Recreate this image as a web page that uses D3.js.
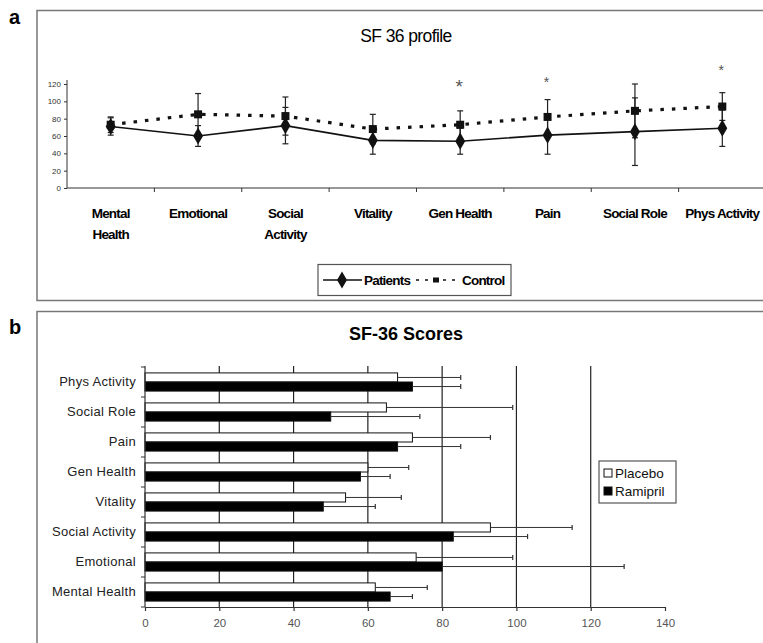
<!DOCTYPE html>
<html>
<head>
<meta charset="utf-8">
<script src="https://cdn.jsdelivr.net/npm/d3@7"></script>
<style>
  body { margin: 0; background: #fff; }
  svg { display: block; }
  .narrow { font-family: "Liberation Sans", Arial, sans-serif; }
  .plain { font-family: "Liberation Sans", Arial, sans-serif; }
</style>
</head>
<body>
<div id="chart"></div>
<script>
// categories shared by both panels
var categories = ["Mental Health", "Emotional", "Social Activity", "Vitality",
                  "Gen Health", "Pain", "Social Role", "Phys Activity"];

// panel a: SF 36 profile (patients vs control)
var patients    = [71, 60, 72, 55, 54, 61, 65, 69];
var patientsErr = [10, 12, 21, 16, 15, 22, 39, 21];
var control     = [73, 85, 83, 68, 73, 82, 89, 94];
var controlErr  = [9, 24, 22, 17, 16, 20, 31, 16];
var profileTicks = [0, 20, 40, 60, 80, 100, 120];
var starCats  = ["Gen Health", "Pain", "Phys Activity"];
var starVals  = [121, 125, 138];

// panel b: SF-36 scores (placebo vs ramipril)
var placebo     = [62, 73, 93, 54, 60, 72, 65, 68];
var placeboErr  = [14, 26, 22, 15, 11, 21, 34, 17];
var ramipril    = [66, 80, 83, 48, 58, 68, 50, 72];
var ramiprilErr = [6, 49, 20, 14, 8, 17, 24, 13];
var scoreTicks = [0, 20, 40, 60, 80, 100, 120, 140];
var gridTicks  = [20, 40, 60, 80, 100, 120];

var W = 763, H = 643;
var svg = d3.select("#chart").append("svg")
    .attr("width", W)
    .attr("height", H);

// panel frames
svg.append("rect").attr("x", 37).attr("y", 10.5).attr("width", 800).attr("height", 290)
    .attr("fill", "none").attr("stroke", "#777").attr("stroke-width", 1.5);
svg.append("rect").attr("x", 37).attr("y", 311.5).attr("width", 800).attr("height", 400)
    .attr("fill", "none").attr("stroke", "#777").attr("stroke-width", 1.5);

svg.append("text").attr("class", "plain").attr("x", 9).attr("y", 24)
    .style("font-size", "20px").style("font-weight", "bold").text("a");
svg.append("text").attr("class", "plain").attr("x", 9).attr("y", 334)
    .style("font-size", "20px").style("font-weight", "bold").text("b");

// ---------------- panel a ----------------
var xA = d3.scaleBand().domain(categories).range([67, 766]);
var yA = d3.scaleLinear().domain([0, 120]).range([188, 84]);
var cx = function(c) { return xA(c) + xA.bandwidth() / 2; };

var gA = svg.append("g");

gA.append("text").attr("class", "narrow")
    .attr("x", 406).attr("y", 42)
    .style("text-anchor", "middle").style("font-size", "17.5px")
    .style("letter-spacing", "-0.6px")
    .text("SF 36 profile");

// y axis
var yAxisA = d3.axisLeft(yA).tickValues(profileTicks).tickSize(3).tickSizeOuter(0);
var gyA = gA.append("g").attr("transform", "translate(67,0)").call(yAxisA);
gyA.select(".domain").attr("d", "M0,80V188");
gyA.selectAll("text").attr("class", "plain").style("font-size", "8px").attr("fill", "#333");
gyA.selectAll("line, path").attr("stroke", "#333");

// x axis line and ticks between categories
gA.append("line").attr("x1", 67).attr("x2", 766).attr("y1", 188).attr("y2", 188)
    .attr("stroke", "#333").attr("stroke-width", 1.2);
gA.selectAll(".xtick").data(categories.slice(1)).enter().append("line")
    .attr("x1", function(d) { return xA(d); }).attr("x2", function(d) { return xA(d); })
    .attr("y1", 188).attr("y2", 192).attr("stroke", "#333");

// category labels (two lines where needed)
var labelLines = categories.map(function(c) {
    if (c === "Mental Health" || c === "Social Activity") return c.split(" ");
    return [c];
});
gA.selectAll(".catlab").data(categories).enter().append("text")
    .attr("class", "narrow")
    .attr("x", function(d) { return cx(d); })
    .attr("y", 218)
    .style("text-anchor", "middle").style("font-size", "13.5px").style("font-weight", "bold")
    .style("letter-spacing", "-0.8px")
    .each(function(d, i) {
        var t = d3.select(this);
        labelLines[i].forEach(function(s, j) {
            t.append("tspan").attr("x", cx(d)).attr("dy", j === 0 ? 0 : 21).text(s);
        });
    });

// error bars
function errA(vals, errs, cls) {
    var g = gA.append("g").attr("class", cls);
    categories.forEach(function(c, i) {
        var x = cx(c);
        var top = yA(vals[i] + errs[i]), bot = yA(vals[i] - errs[i]);
        g.append("line").attr("x1", x).attr("x2", x).attr("y1", top).attr("y2", bot)
            .attr("stroke", "#222").attr("stroke-width", 1.2);
        [top, bot].forEach(function(y) {
            g.append("line").attr("x1", x - 3).attr("x2", x + 3).attr("y1", y).attr("y2", y)
                .attr("stroke", "#222").attr("stroke-width", 1.2);
        });
    });
}
errA(control, controlErr, "err-control");
errA(patients, patientsErr, "err-patients");

// control line (dotted) with squares
var lineA = d3.line()
    .x(function(d, i) { return cx(categories[i]); })
    .y(function(d) { return yA(d); });

gA.append("path").datum(control).attr("d", lineA)
    .attr("fill", "none").attr("stroke", "#111").attr("stroke-width", 3.2)
    .attr("stroke-dasharray", "3.5,8");
gA.selectAll(".csq").data(control).enter().append("rect")
    .attr("x", function(d, i) { return cx(categories[i]) - 4; })
    .attr("y", function(d) { return yA(d) - 4; })
    .attr("width", 8).attr("height", 8).attr("fill", "#111");

// patients line (solid) with diamonds
gA.append("path").datum(patients).attr("d", lineA)
    .attr("fill", "none").attr("stroke", "#111").attr("stroke-width", 1.6);
var diamond = d3.symbol().type(d3.symbolDiamond).size(85);
gA.selectAll(".pdia").data(patients).enter().append("path")
    .attr("d", diamond)
    .attr("transform", function(d, i) { return "translate(" + cx(categories[i]) + "," + yA(d) + ")"; })
    .attr("fill", "#111");

// significance asterisks
gA.selectAll(".star").data(starCats).enter().append("text")
    .attr("class", "plain")
    .attr("x", function(d) { return cx(d) - 1; })
    .attr("y", function(d, i) { return yA(starVals[i]) + (i === 0 ? 10 : 7); })
    .style("text-anchor", "middle").style("font-size", function(d, i) { return i === 0 ? "19px" : "14px"; })
    .attr("fill", "#555")
    .text("*");

// legend a
var legA = gA.append("g");
legA.append("rect").attr("x", 318).attr("y", 264.5).attr("width", 193).attr("height", 31)
    .attr("fill", "#fff").attr("stroke", "#555").attr("stroke-width", 1.2);
legA.append("line").attr("x1", 323).attr("x2", 362).attr("y1", 280).attr("y2", 280)
    .attr("stroke", "#111").attr("stroke-width", 1.6);
legA.append("path").attr("d", diamond).attr("transform", "translate(342,280)").attr("fill", "#111");
legA.append("text").attr("class", "narrow").attr("x", 364).attr("y", 285)
    .style("font-size", "13.5px").style("font-weight", "bold").style("letter-spacing", "-0.8px")
    .text("Patients");
legA.append("line").attr("x1", 416).attr("x2", 458).attr("y1", 280).attr("y2", 280)
    .attr("stroke", "#111").attr("stroke-width", 1.6).attr("stroke-dasharray", "3,6");
legA.append("rect").attr("x", 433).attr("y", 277.5).attr("width", 6).attr("height", 5).attr("fill", "#111");
legA.append("text").attr("class", "narrow").attr("x", 462).attr("y", 285)
    .style("font-size", "13.5px").style("font-weight", "bold").style("letter-spacing", "-0.8px")
    .text("Control");

// ---------------- panel b ----------------
var xB = d3.scaleLinear().domain([0, 140]).range([145, 665]);
var yB = d3.scaleBand().domain(categories.slice().reverse()).range([367, 607]);
var sub = d3.scaleBand().domain(["placebo", "ramipril"]).range([0, yB.bandwidth()])
    .paddingOuter(0.65);

var gB = svg.append("g");

gB.append("text").attr("class", "plain")
    .attr("x", 406).attr("y", 340)
    .style("text-anchor", "middle").style("font-size", "18px").style("font-weight", "bold")
    .text("SF-36 Scores");

// gridlines
gB.selectAll(".grid").data(gridTicks).enter().append("line")
    .attr("x1", function(d) { return xB(d); }).attr("x2", function(d) { return xB(d); })
    .attr("y1", 366).attr("y2", 607)
    .attr("stroke", "#222").attr("stroke-width", 1.2);

// bars
var series = [
    {key: "placebo", vals: placebo, errs: placeboErr, fill: "#fff"},
    {key: "ramipril", vals: ramipril, errs: ramiprilErr, fill: "#000"}
];
series.forEach(function(s) {
    gB.selectAll(".bar-" + s.key).data(categories).enter().append("rect")
        .attr("x", xB(0))
        .attr("y", function(c) { return yB(c) + sub(s.key); })
        .attr("width", function(c, i) { return xB(s.vals[i]) - xB(0); })
        .attr("height", sub.bandwidth())
        .attr("fill", s.fill).attr("stroke", "#111").attr("stroke-width", 1);
});

// error bars b
series.forEach(function(s) {
    categories.forEach(function(c, i) {
        var y = yB(c) + sub(s.key) + sub.bandwidth() / 2;
        var x0 = xB(s.vals[i]), x1 = xB(s.vals[i] + s.errs[i]);
        gB.append("line").attr("x1", x0).attr("x2", x1).attr("y1", y).attr("y2", y)
            .attr("stroke", "#333").attr("stroke-width", 1);
        gB.append("line").attr("x1", x1).attr("x2", x1).attr("y1", y - 2.5).attr("y2", y + 2.5)
            .attr("stroke", "#333").attr("stroke-width", 1.2);
    });
});

// x axis b
var xAxisB = d3.axisBottom(xB).tickValues(scoreTicks).tickSize(4).tickSizeOuter(0);
var gxB = gB.append("g").attr("transform", "translate(0,607)").call(xAxisB);
gxB.selectAll("text").attr("class", "plain").style("font-size", "11.5px").attr("fill", "#555").attr("dy", "1.1em");
gxB.selectAll("line, path").attr("stroke", "#333").attr("stroke-width", 1.2);

// y axis b
var yBoundaries = categories.map(function(c) { return yB(c); }).concat([607]);
gB.append("line").attr("x1", 145).attr("x2", 145).attr("y1", 366).attr("y2", 607)
    .attr("stroke", "#333").attr("stroke-width", 1.2);
gB.selectAll(".ytick").data(yBoundaries).enter().append("line")
    .attr("x1", 141).attr("x2", 145)
    .attr("y1", function(d) { return d; }).attr("y2", function(d) { return d; })
    .attr("stroke", "#333");
gB.selectAll(".ylab").data(categories).enter().append("text")
    .attr("class", "plain")
    .attr("x", 136)
    .attr("y", function(c) { return yB(c) + yB.bandwidth() / 2 + 4; })
    .style("text-anchor", "end").style("font-size", "13px").attr("fill", "#222")
    .style("letter-spacing", "0.3px")
    .text(function(c) { return c; });

// legend b
var legB = gB.append("g");
legB.append("rect").attr("x", 599).attr("y", 461).attr("width", 77).attr("height", 42)
    .attr("fill", "#fff").attr("stroke", "#555").attr("stroke-width", 1.2);
legB.selectAll(".sw").data(series).enter().append("rect")
    .attr("x", 604).attr("y", function(d, i) { return 469 + i * 18; })
    .attr("width", 8).attr("height", 8)
    .attr("fill", function(d) { return d.fill; }).attr("stroke", "#111");
legB.selectAll(".lt").data(["Placebo", "Ramipril"]).enter().append("text")
    .attr("class", "plain")
    .attr("x", 615).attr("y", function(d, i) { return 478 + i * 18; })
    .style("font-size", "13.5px").attr("fill", "#111")
    .text(function(d) { return d; });
</script>
</body>
</html>
